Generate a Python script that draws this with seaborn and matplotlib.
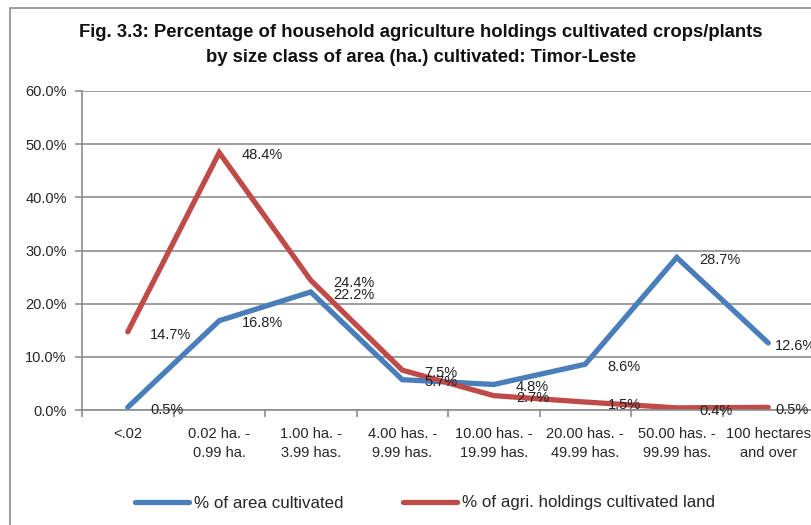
import matplotlib
matplotlib.use('Agg')
from matplotlib import pyplot as plt
from matplotlib.patches import Rectangle
from matplotlib.ticker import FixedLocator, NullFormatter, FuncFormatter
import seaborn as sns
import pandas as pd

# size classes of area cultivated
categories = ['<.02', '0.02 ha. -\n0.99 ha.', '1.00 ha. -\n3.99 has.', '4.00 has. -\n9.99 has.',
              '10.00 has. -\n19.99 has.', '20.00 has. -\n49.99 has.', '50.00 has. -\n99.99 has.',
              '100 hectares\nand over']
area_cultivated = [0.5, 16.8, 22.2, 5.7, 4.8, 8.6, 28.7, 12.6]
holdings_cultivated = [14.7, 48.4, 24.4, 7.5, 2.7, 1.5, 0.4, 0.5]
series_names = ['% of area cultivated', '% of agri. holdings cultivated land']
y_ticks = [0, 10, 20, 30, 40, 50, 60]

sns.set_theme(style='white')
plt.rcParams['font.family'] = ['Liberation Sans', 'DejaVu Sans']

df = pd.DataFrame({
    'pos': list(range(len(categories))) * 2,
    'value': area_cultivated + holdings_cultivated,
    'series': [series_names[0]] * len(categories) + [series_names[1]] * len(categories),
})

fig = plt.figure(figsize=(8.11, 5.25), dpi=100)
W, H = 811, 525
# chart border (cropped on right/bottom in the reference)
fig.patches.append(Rectangle((10 / W, -0.1), 1.2, 1 - 8 / H + 0.1, transform=fig.transFigure,
                             fill=False, edgecolor='#8c8c8c', linewidth=1.2))

ax = fig.add_axes([82 / W, 1 - 410 / H, 732 / W, 319 / H])
palette = {series_names[0]: '#4A7EBB', series_names[1]: '#BE4B48'}
sns.lineplot(data=df, x='pos', y='value', hue='series', palette=palette, linewidth=3.8,
             ax=ax, legend=False, solid_capstyle='round', solid_joinstyle='miter')

ax.set_xlim(-0.5, len(categories) - 0.5)
ax.set_ylim(0, 60)
ax.set_yticks(y_ticks)
ax.yaxis.set_major_formatter(FuncFormatter(lambda v, p: f'{v:.1f}%'))
ax.grid(axis='y', color='#8c8c8c', linewidth=1.2)
ax.set_axisbelow(True)

# category labels centered, tick marks on category boundaries
ax.set_xticks(range(len(categories)))
ax.set_xticklabels(categories, fontsize=10.5, linespacing=1.5)
ax.tick_params(axis='x', length=0, pad=12)
ax.xaxis.set_minor_locator(FixedLocator([i + 0.5 for i in range(-1, len(categories))]))
ax.xaxis.set_minor_formatter(NullFormatter())
ax.tick_params(axis='x', which='minor', length=5, width=1.2, color='#8c8c8c', direction='out', bottom=True)
ax.tick_params(axis='y', length=5, width=1.2, color='#8c8c8c', direction='out', left=True, labelsize=10.5, pad=6)

for side in ['top', 'right']:
    ax.spines[side].set_visible(False)
for side in ['left', 'bottom']:
    ax.spines[side].set_color('#8c8c8c')
    ax.spines[side].set_linewidth(1.2)
ax.set_xlabel('')
ax.set_ylabel('')

# data labels to the right of each point (last ones squeezed in, as in the original)
for vals in [area_cultivated, holdings_cultivated]:
    for i, v in enumerate(vals):
        dx = 5 if i == len(vals) - 1 else 16
        ax.annotate(f'{v:.1f}%', (i, v), xytext=(dx, -2), textcoords='offset points',
                    ha='left', va='center', fontsize=10.5, color='#222222', annotation_clip=False)

fig.text(421 / W, 1 - 45 / H,
         'Fig. 3.3: Percentage of household agriculture holdings cultivated crops/plants\n'
         'by size class of area (ha.) cultivated: Timor-Leste',
         ha='center', va='center', fontsize=13.3, fontweight='bold', linespacing=1.6, color='#111111')

# legend
handles = [plt.Line2D([], [], color=palette[n], linewidth=3.8, solid_capstyle='round') for n in series_names]
fig.legend(handles, series_names, loc='center', bbox_to_anchor=(425 / W, 1 - 503 / H), ncol=2,
           frameon=False, fontsize=12.2, handlelength=3.2, handletextpad=0.3, columnspacing=3.5)

fig.savefig('out.png', dpi=100)
